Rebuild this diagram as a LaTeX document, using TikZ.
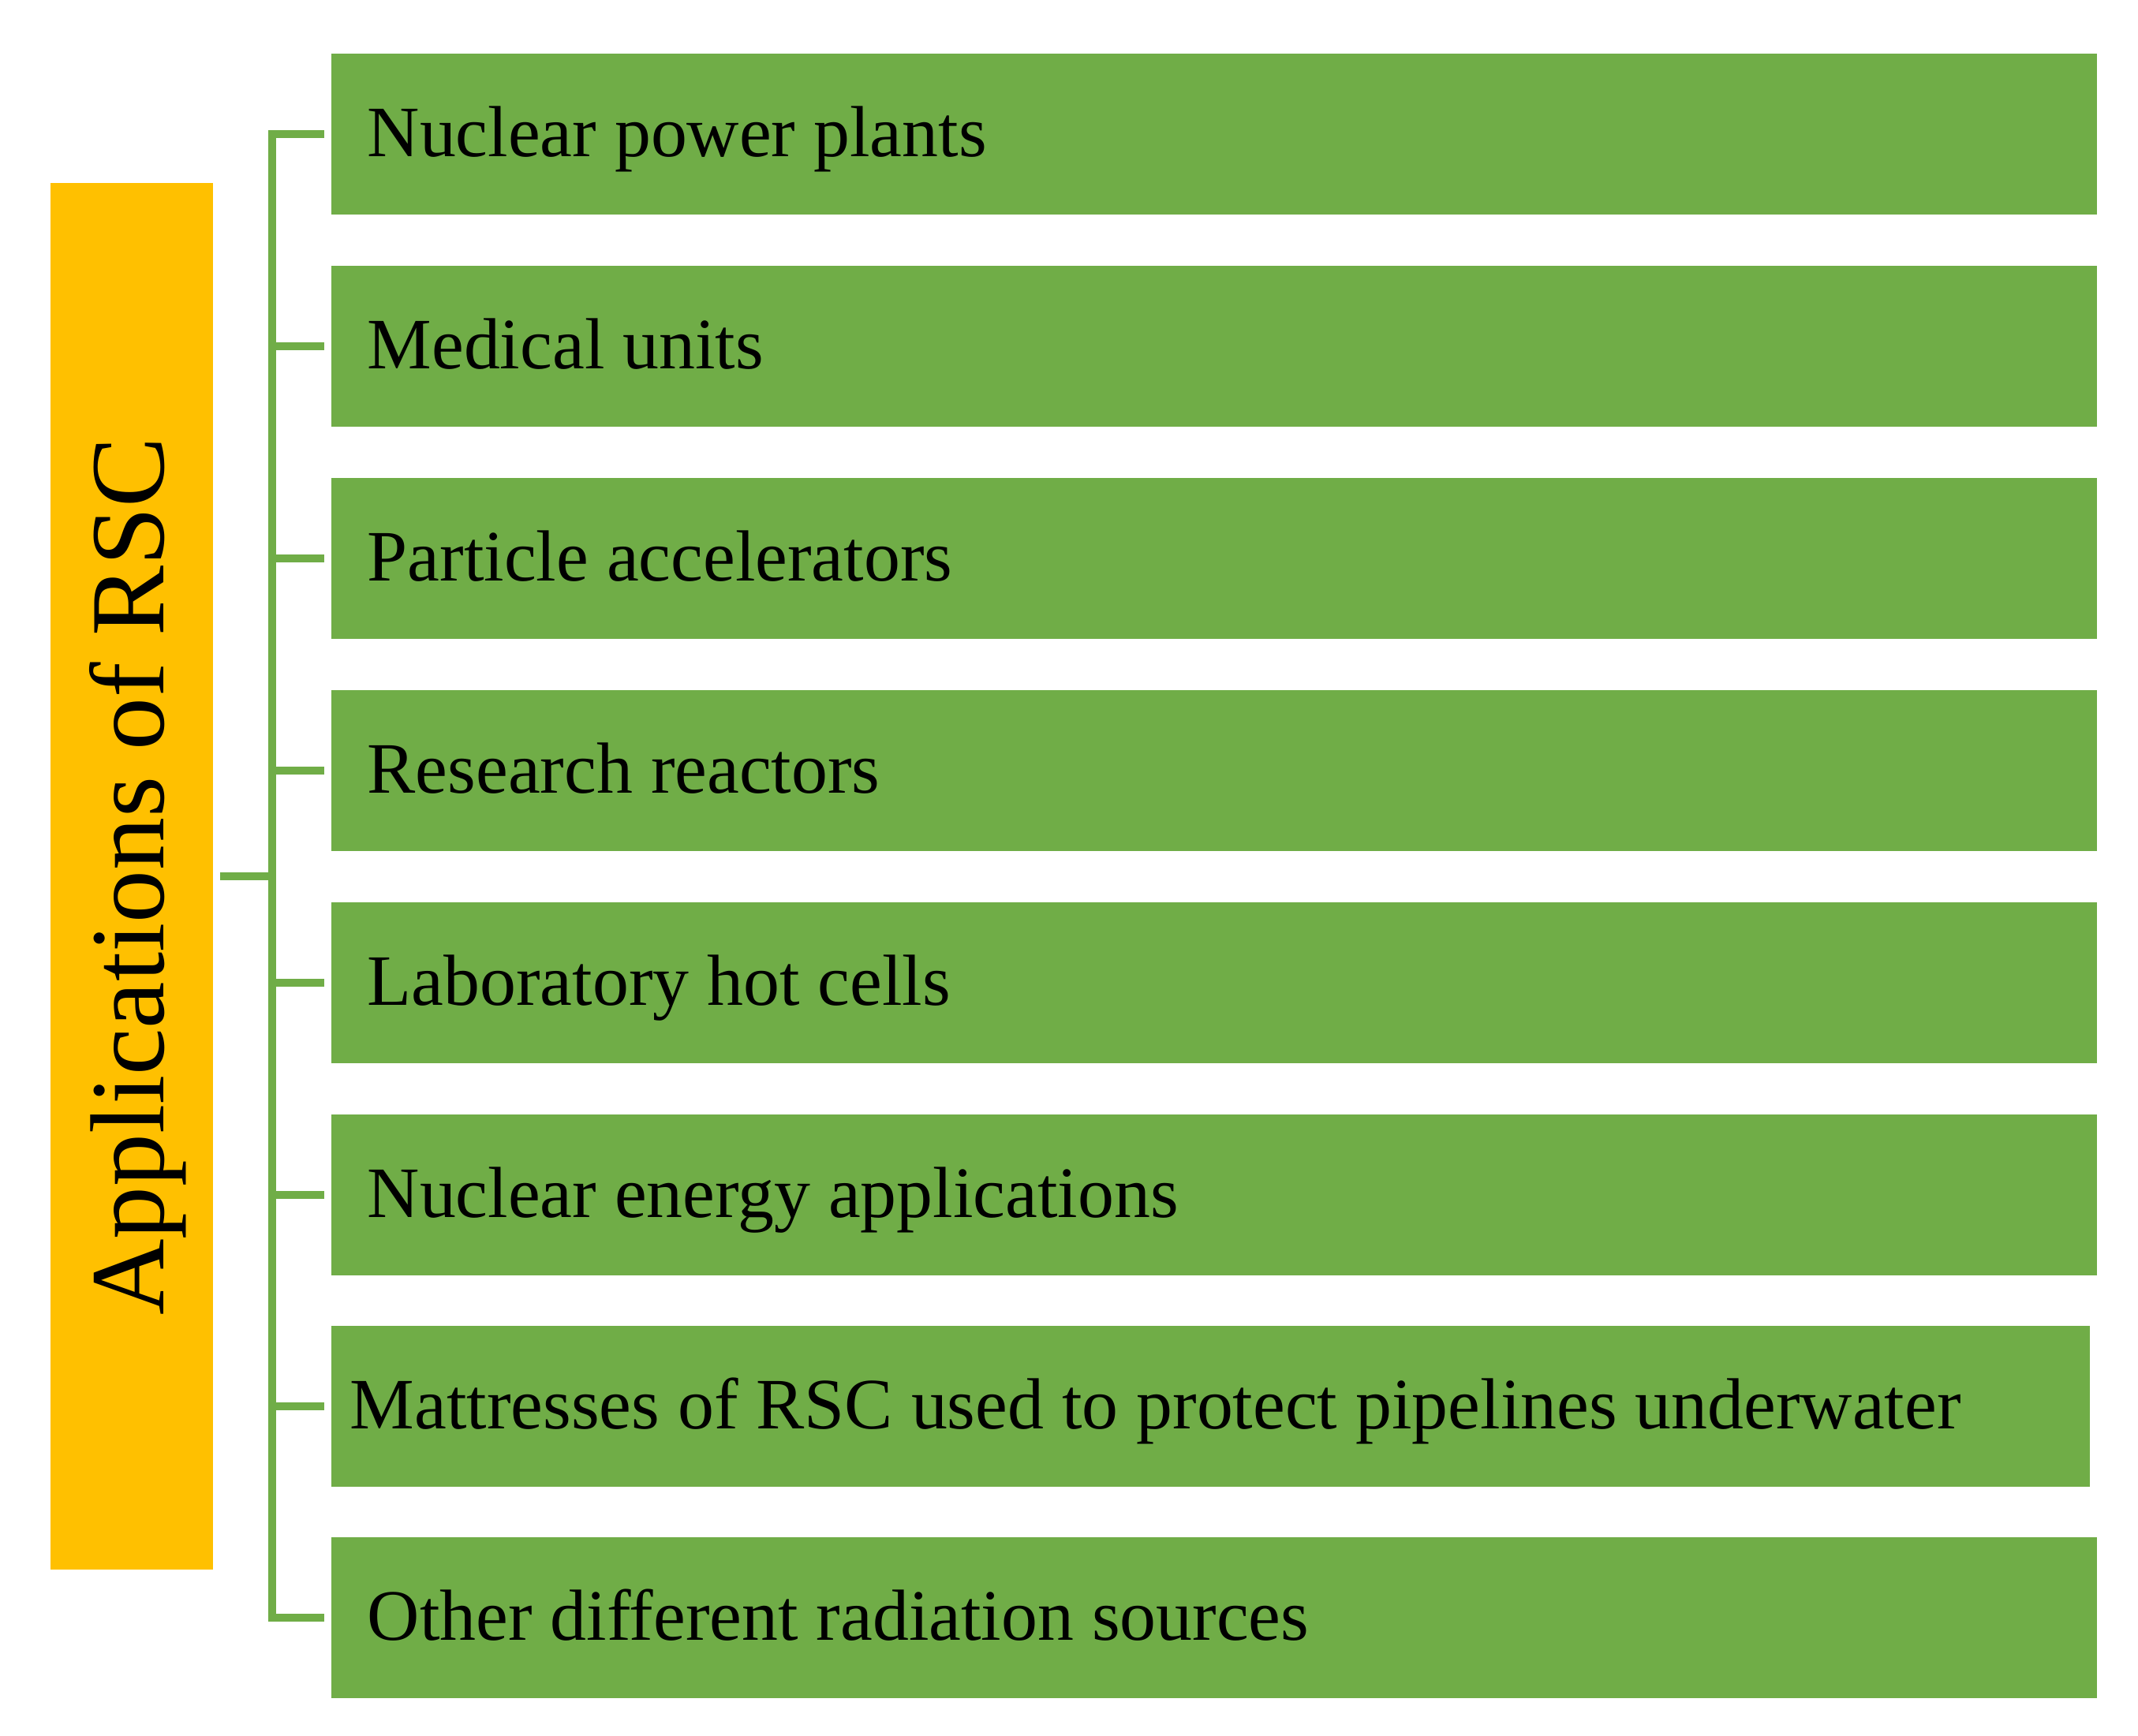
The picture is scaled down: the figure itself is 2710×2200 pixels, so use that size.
\documentclass[tikz,border=0pt]{standalone}
\usepackage{fontspec}
\setmainfont{Liberation Serif}
\definecolor{gfill}{HTML}{70AD47}
\definecolor{yfill}{HTML}{FFC000}
\begin{document}
\begin{tikzpicture}[x=0.01cm,y=-0.01cm,
  gbox/.style={fill=gfill, draw=none, minimum width=22.37cm, minimum height=2.04cm, anchor=north west, inner sep=0pt, outer sep=0pt},
  gtext/.style={anchor=base west, inner sep=0pt, font=\fontsize{26.1}{30}\selectfont},
  ybox/.style={fill=yfill, draw=none, minimum width=2.06cm, minimum height=17.57cm, anchor=north west, inner sep=0pt, outer sep=0pt},
  ytext/.style={rotate=90, inner sep=0pt, font=\fontsize{38}{44}\selectfont},
  conn/.style={draw=gfill, line width=0.095cm, line join=miter, line cap=butt}
]
\useasboundingbox (0,0) rectangle (2710,2200);
\fill[white] (0,0) rectangle (2710,2200);

\node[ybox] (yel) at (64,232) {};
\node[ytext] (ylab) at ([xshift=0.08cm]yel.center) {Applications of RSC};

\node[gbox] (b1) at (420,68) {};
\node[gbox] (b2) at (420,337) {};
\node[gbox] (b3) at (420,606) {};
\node[gbox] (b4) at (420,875) {};
\node[gbox] (b5) at (420,1144) {};
\node[gbox] (b6) at (420,1413) {};
\node[gbox, minimum width=22.28cm] (b7) at (420,1681) {};
\node[gbox] (b8) at (420,1949) {};

\node[gtext] (t1) at ([xshift=0.45cm,yshift=-0.28cm]b1.west) {Nuclear power plants};
\node[gtext] (t2) at ([xshift=0.45cm,yshift=-0.28cm]b2.west) {Medical units};
\node[gtext] (t3) at ([xshift=0.45cm,yshift=-0.28cm]b3.west) {Particle accelerators};
\node[gtext] (t4) at ([xshift=0.45cm,yshift=-0.28cm]b4.west) {Research reactors};
\node[gtext] (t5) at ([xshift=0.45cm,yshift=-0.28cm]b5.west) {Laboratory hot cells};
\node[gtext] (t6) at ([xshift=0.45cm,yshift=-0.28cm]b6.west) {Nuclear energy applications};
\node[gtext] (t7) at ([xshift=0.23cm,yshift=-0.28cm]b7.west) {Mattresses of RSC used to protect pipelines underwater};
\node[gtext] (t8) at ([xshift=0.45cm,yshift=-0.28cm]b8.west) {Other different radiation sources};

\coordinate (spine) at (345,0);

\draw[conn] ([xshift=-0.09cm]b1.west) -- (b1.west -| spine) -- (b8.west -| spine) -- ([xshift=-0.09cm]b8.west);
\foreach \b in {b2,b3,b4,b5,b6,b7}{
  \draw[conn] (\b.west -| spine) -- ([xshift=-0.09cm]\b.west);
}
\draw[conn] ([xshift=0.09cm]yel.east) -- (yel.east -| spine);
\end{tikzpicture}
\end{document}
